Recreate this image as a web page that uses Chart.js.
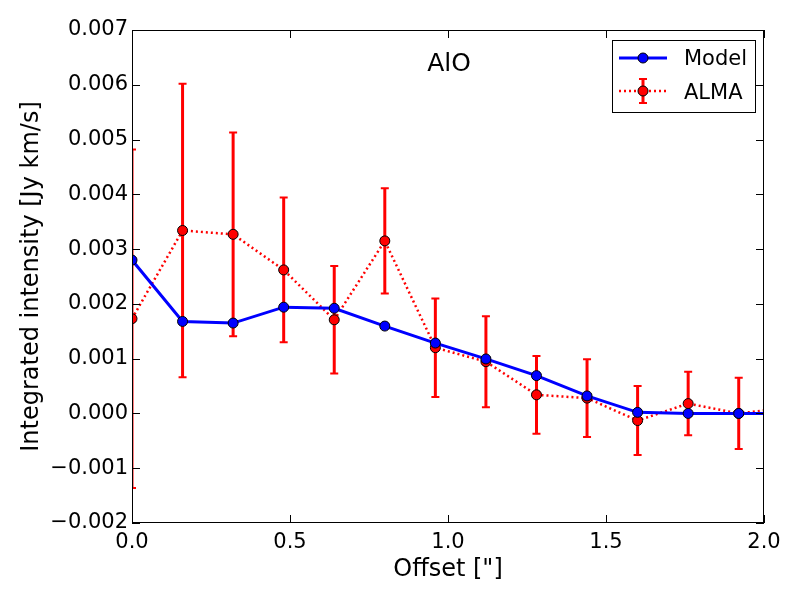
<!DOCTYPE html>
<html><head><meta charset="utf-8">
<script src="https://cdn.jsdelivr.net/npm/chart.js@4"></script>
<style>html,body{margin:0;padding:0;background:#fff}#wrap{width:800px;height:600px}</style>
</head><body><div id="wrap"><canvas id="c" width="800" height="600"></canvas></div>
<script>
const offsets = [0, 0.16, 0.32, 0.48, 0.64, 0.80, 0.96, 1.12, 1.28, 1.44, 1.60, 1.76, 1.92, 2.08];
const modelVals = [0.0028, 0.00168, 0.00165, 0.00194, 0.00192, 0.001595, 0.001285, 0.000995, 0.00069, 0.00032, 0.00002, 0.0000, 0.0000, 0.0000];
const almaVals = [0.00173, 0.00334, 0.00327, 0.00262, 0.00171, 0.00315, 0.00120, 0.000945, 0.00034, 0.00028, -0.00013, 0.00018, 0.0000, 0.00011];
const almaErr = [0.00309, 0.00268, 0.00186, 0.00132, 0.00098, 0.00096, 0.00090, 0.00083, 0.00071, 0.00071, 0.00063, 0.00058, 0.00065, 0.0006];
const titleText = 'AlO';
const xLabel = 'Offset ["]';
const yLabel = 'Integrated intensity [Jy km/s]';
const seriesNames = ['Model', 'ALMA'];

const FONT = 'DejaVu Sans';
const toPts = (ys) => offsets.map((x, i) => ({x: x, y: ys[i]}));

const errPlugin = {
  id: 'err',
  beforeDatasetsDraw(chart) {
    const {ctx, chartArea: a, scales: {x, y}} = chart;
    ctx.save();
    ctx.beginPath(); ctx.rect(a.left, a.top, a.right - a.left, a.bottom - a.top); ctx.clip();
    ctx.strokeStyle = '#ff0000';
    offsets.forEach((xv, i) => {
      const px = x.getPixelForValue(xv);
      const top = y.getPixelForValue(almaVals[i] + almaErr[i]);
      const bot = y.getPixelForValue(almaVals[i] - almaErr[i]);
      ctx.lineWidth = 3;
      ctx.beginPath(); ctx.moveTo(px, top); ctx.lineTo(px, bot); ctx.stroke();
      ctx.lineWidth = 2;
      ctx.beginPath();
      ctx.moveTo(px - 4, top); ctx.lineTo(px + 4, top);
      ctx.moveTo(px - 4, bot); ctx.lineTo(px + 4, bot);
      ctx.stroke();
    });
    ctx.restore();
  },
  afterDraw(chart) {
    const {ctx, chartArea: a, scales: {x, y}} = chart;
    ctx.save();
    ctx.strokeStyle = '#000'; ctx.lineWidth = 1;
    ctx.strokeRect(a.left + 0.5, a.top + 0.5, a.right - a.left - 1, a.bottom - a.top - 1);
    ctx.beginPath();
    x.ticks.forEach(t => {
      const px = Math.round(x.getPixelForValue(t.value)) + 0.5;
      ctx.moveTo(px, a.bottom); ctx.lineTo(px, a.bottom - 8);
      ctx.moveTo(px, a.top); ctx.lineTo(px, a.top + 8);
    });
    y.ticks.forEach(t => {
      const py = Math.round(y.getPixelForValue(t.value)) + 0.5;
      ctx.moveTo(a.left, py); ctx.lineTo(a.left + 8, py);
      ctx.moveTo(a.right, py); ctx.lineTo(a.right - 8, py);
    });
    ctx.stroke();
    ctx.fillStyle = '#000';
    const cx = (a.left + a.right) / 2, cy = (a.top + a.bottom) / 2;
    ctx.font = '24px "' + FONT + '"';
    ctx.textAlign = 'center'; ctx.textBaseline = 'alphabetic';
    ctx.fillText(xLabel, cx, 576);
    ctx.save();
    ctx.translate(38, cy); ctx.rotate(-Math.PI / 2);
    ctx.fillText(yLabel, 0, 0);
    ctx.restore();
    ctx.font = '25px "' + FONT + '"';
    ctx.fillText(titleText, 449, 71);
    const lx = 612, ly = 40, lw = 143, lh = 72;
    ctx.fillStyle = '#fff';
    ctx.fillRect(lx, ly, lw, lh);
    ctx.strokeStyle = '#000'; ctx.lineWidth = 1;
    ctx.strokeRect(lx + 0.5, ly + 0.5, lw, lh);
    ctx.strokeStyle = '#0000ff'; ctx.lineWidth = 3;
    ctx.beginPath(); ctx.moveTo(619, 58); ctx.lineTo(667, 58); ctx.stroke();
    ctx.fillStyle = '#0000ff'; ctx.strokeStyle = '#000'; ctx.lineWidth = 1;
    ctx.beginPath(); ctx.arc(643, 58, 5, 0, Math.PI * 2); ctx.fill(); ctx.stroke();
    ctx.strokeStyle = '#ff0000'; ctx.lineWidth = 2.5; ctx.setLineDash([2, 3]);
    ctx.beginPath(); ctx.moveTo(619, 91); ctx.lineTo(667, 91); ctx.stroke();
    ctx.setLineDash([]);
    ctx.lineWidth = 3;
    ctx.beginPath(); ctx.moveTo(643, 79); ctx.lineTo(643, 103); ctx.stroke();
    ctx.lineWidth = 2;
    ctx.beginPath(); ctx.moveTo(639, 79); ctx.lineTo(647, 79); ctx.moveTo(639, 103); ctx.lineTo(647, 103); ctx.stroke();
    ctx.fillStyle = '#ff0000'; ctx.strokeStyle = '#000'; ctx.lineWidth = 1;
    ctx.beginPath(); ctx.arc(643, 91, 5, 0, Math.PI * 2); ctx.fill(); ctx.stroke();
    ctx.fillStyle = '#000';
    ctx.font = '21px "' + FONT + '"';
    ctx.textAlign = 'left'; ctx.textBaseline = 'alphabetic';
    ctx.fillText(seriesNames[0], 684, 65);
    ctx.fillText(seriesNames[1], 684, 99);
    ctx.restore();
  }
};

new Chart(document.getElementById('c'), {
  type: 'line',
  data: {
    datasets: [
      {label: seriesNames[0], data: toPts(modelVals), borderColor: '#0000ff', backgroundColor: '#0000ff',
       borderWidth: 3, pointRadius: 5, pointBorderColor: '#000', pointBorderWidth: 1, pointBackgroundColor: '#0000ff', tension: 0},
      {label: seriesNames[1], data: toPts(almaVals), borderColor: '#ff0000', backgroundColor: '#ff0000',
       borderWidth: 2.5, borderDash: [2, 3], pointRadius: 5, pointBorderColor: '#000', pointBorderWidth: 1, pointBackgroundColor: '#ff0000', tension: 0}
    ]
  },
  options: {
    responsive: false,
    animation: false,
    layout: {padding: {top: 30, right: 36, left: 0, bottom: 0}},
    plugins: {legend: {display: false}, tooltip: {enabled: false}},
    scales: {
      x: {
        type: 'linear', min: 0, max: 2.0,
        afterFit(s) { s.height = 77; },
        ticks: {stepSize: 0.5, color: '#000', font: {family: FONT, size: 21}, padding: 7,
                callback: v => v.toFixed(1), maxRotation: 0},
        grid: {display: false, drawTicks: false},
        border: {display: false}
      },
      y: {
        type: 'linear', min: -0.002, max: 0.007,
        afterFit(s) { s.width = 132; },
        ticks: {stepSize: 0.001, color: '#000', font: {family: FONT, size: 21}, padding: 4,
                callback: v => (Math.abs(v) < 1e-12 ? 0 : v).toFixed(3).replace('-', '\u2212')},
        grid: {display: false, drawTicks: false},
        border: {display: false}
      }
    }
  },
  plugins: [errPlugin]
});
</script>
</body></html>
